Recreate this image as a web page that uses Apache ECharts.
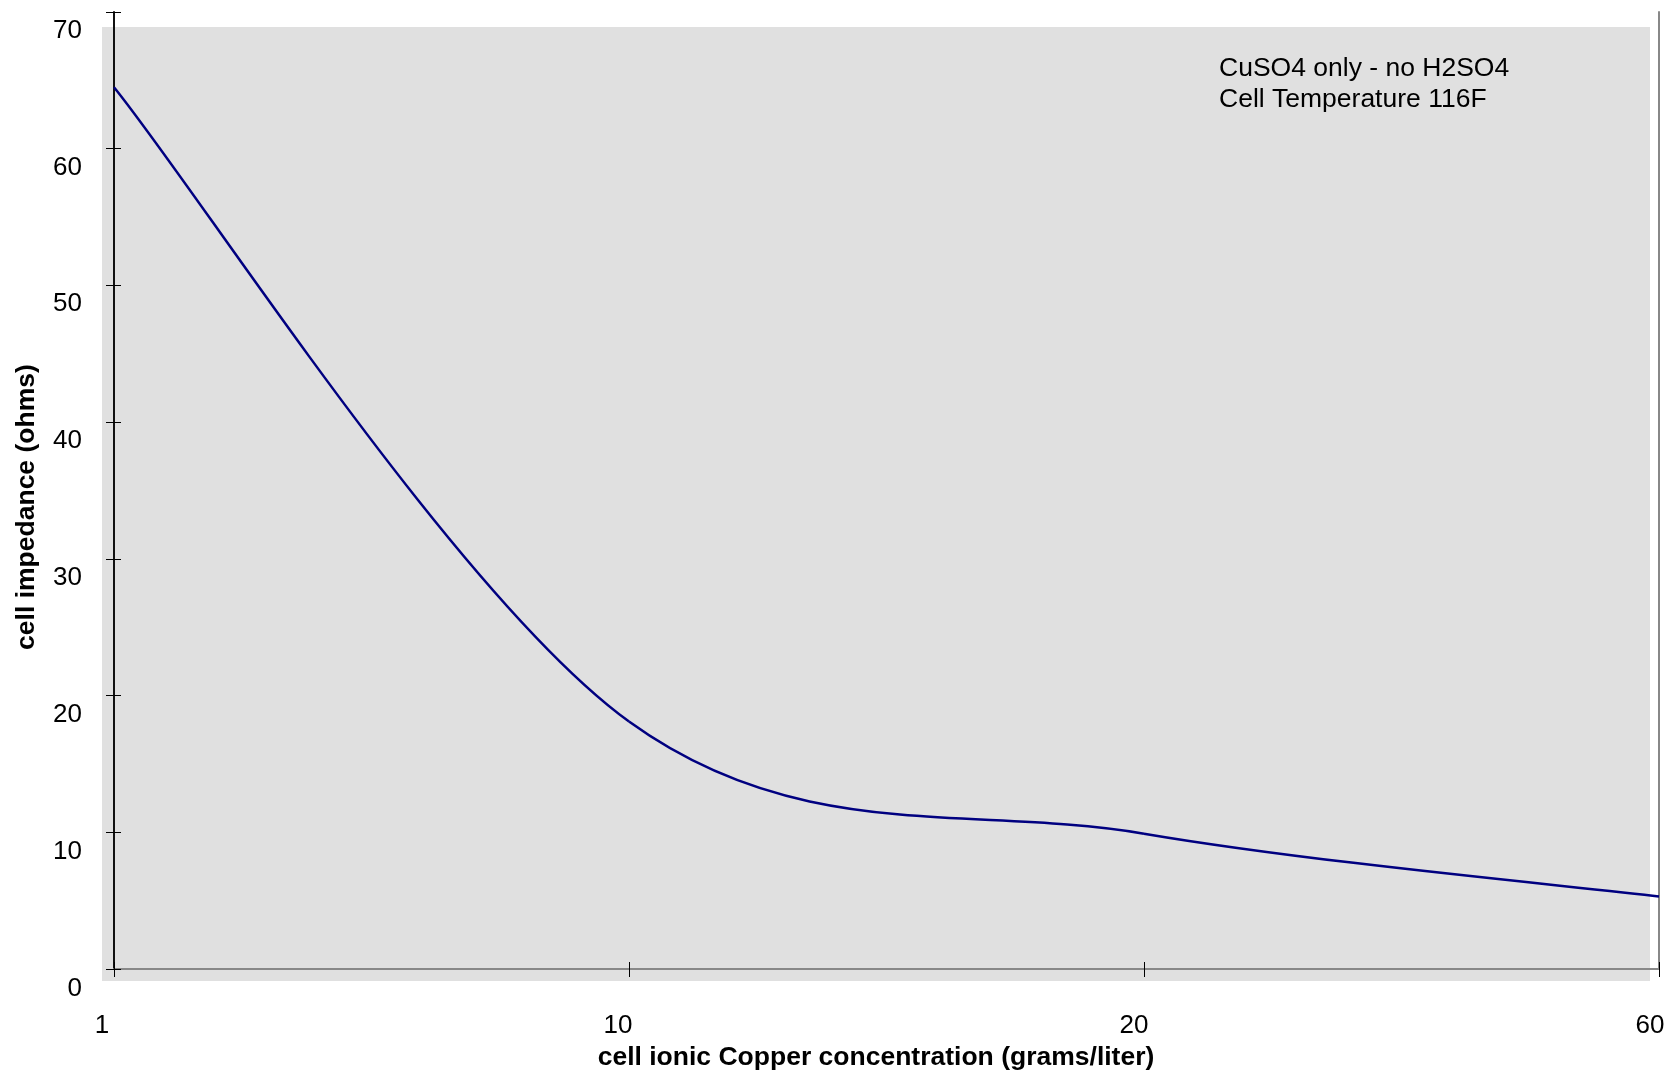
<!DOCTYPE html>
<html>
<head>
<meta charset="utf-8">
<title>cell impedance vs copper concentration</title>
<script src="https://cdn.jsdelivr.net/npm/echarts@6.0.0/dist/echarts.min.js"></script>
<style>
  html, body {
    margin: 0;
    padding: 0;
    background: #fff;
  }

  #impedance-chart {
    width: 1673px;
    height: 1076px;
  }
</style>
</head>
<body>
<div id="impedance-chart"></div>
<script>
// values
const concentrations = ['1', '10', '20', '60'];
const impedance = [64.5, 18.1, 9.9, 5.3];
const yMin = 0;
const yMax = 70;
const yStep = 10;
const notes = ['CuSO4 only - no H2SO4', 'Cell Temperature 116F'];

const FONT = '"Liberation Sans", Arial, sans-serif';
const LINE_COLOR = '#000080';

const hiddenAxis = {
  axisLabel: { show: false },
  axisTick: { show: false },
  splitLine: { show: false },
};

// spreadsheet-style smoothed line: one bezier per segment,
// control points at 1/6 of the neighbour-to-neighbour vector
function renderSegment(params, api) {
  const i = params.dataIndex;
  const last = impedance.length - 1;
  if (i >= last) {
    return null;
  }
  const pt = (k) => {
    const idx = Math.min(Math.max(k, 0), last);
    return api.coord([idx, impedance[idx]]);
  };
  const p0 = pt(i - 1);
  const p1 = pt(i);
  const p2 = pt(i + 1);
  const p3 = pt(i + 2);
  return {
    type: 'bezierCurve',
    shape: {
      x1: p1[0],
      y1: p1[1],
      cpx1: p1[0] + (p2[0] - p0[0]) / 6,
      cpy1: p1[1] + (p2[1] - p0[1]) / 6,
      cpx2: p2[0] - (p3[0] - p1[0]) / 6,
      cpy2: p2[1] - (p3[1] - p1[1]) / 6,
      x2: p2[0],
      y2: p2[1],
    },
    style: {
      fill: null,
      stroke: LINE_COLOR,
      lineWidth: 2.5,
    },
  };
}

const chartData = {
  animation: false,
  backgroundColor: '#fff',
  textStyle: {
    fontFamily: FONT,
  },
  grid: [
    // frame with axis lines, ticks and the curve
    {
      left: 114,
      top: 12,
      right: 14,
      bottom: 107,
    },
    // grey plot area, slightly shifted, carrying the x labels
    {
      left: 102,
      top: 27,
      right: 23,
      bottom: 91,
      show: true,
      z: -5,
      borderWidth: 0,
      backgroundColor: '#e0e0e0',
    },
    // y labels sit a little lower still
    {
      left: 102,
      top: 30.5,
      right: 23,
      bottom: 87.5,
    },
  ],
  xAxis: [
    {
      gridIndex: 0,
      type: 'category',
      boundaryGap: false,
      data: concentrations,
      axisLine: { show: true, lineStyle: { color: '#111', width: 2 } },
      axisTick: { show: true, length: 8, interval: 0, lineStyle: { color: '#000', width: 1 } },
      axisLabel: { show: false },
      splitLine: { show: false },
    },
    {
      gridIndex: 0,
      type: 'category',
      position: 'bottom',
      boundaryGap: false,
      data: concentrations,
      axisLine: { show: false },
      axisTick: { show: true, inside: true, length: 7, interval: 0, lineStyle: { color: '#000', width: 1 } },
      axisLabel: { show: false },
      splitLine: { show: false },
    },
    {
      ...hiddenAxis,
      gridIndex: 0,
      type: 'category',
      position: 'top',
      boundaryGap: false,
      data: concentrations,
      axisLine: { show: true, lineStyle: { color: '#888', width: 2 } },
    },
    {
      gridIndex: 1,
      type: 'category',
      boundaryGap: false,
      data: concentrations,
      axisLine: { show: false },
      axisTick: { show: false },
      splitLine: { show: false },
      axisLabel: {
        interval: 0,
        margin: 32,
        fontSize: 26,
        color: '#000',
        fontFamily: FONT,
      },
      name: 'cell ionic Copper concentration (grams/liter)',
      nameLocation: 'middle',
      nameGap: 60,
      nameTextStyle: {
        fontSize: 26.5,
        fontWeight: 'bold',
        color: '#000',
        fontFamily: FONT,
      },
    },
    {
      ...hiddenAxis,
      gridIndex: 2,
      type: 'category',
      boundaryGap: false,
      data: concentrations,
      axisLine: { show: false },
    },
  ],
  yAxis: [
    {
      gridIndex: 0,
      type: 'value',
      min: yMin,
      max: yMax,
      interval: yStep,
      axisLine: { show: true, lineStyle: { color: '#111', width: 2 } },
      axisTick: { show: true, length: 8, lineStyle: { color: '#000', width: 1 } },
      axisLabel: { show: false },
      splitLine: { show: false },
    },
    {
      gridIndex: 0,
      type: 'value',
      position: 'left',
      min: yMin,
      max: yMax,
      interval: yStep,
      axisLine: { show: false },
      axisTick: { show: true, inside: true, length: 7, lineStyle: { color: '#000', width: 1 } },
      axisLabel: { show: false },
      splitLine: { show: false },
    },
    {
      ...hiddenAxis,
      gridIndex: 0,
      type: 'value',
      position: 'right',
      min: yMin,
      max: yMax,
      interval: yStep,
      axisLine: { show: true, lineStyle: { color: '#888', width: 2 } },
    },
    {
      ...hiddenAxis,
      gridIndex: 1,
      type: 'value',
      min: yMin,
      max: yMax,
      interval: yStep,
      axisLine: { show: false },
      name: 'cell impedance (ohms)',
      nameLocation: 'middle',
      nameGap: 62,
      nameTextStyle: {
        fontSize: 26.5,
        fontWeight: 'bold',
        color: '#000',
        fontFamily: FONT,
        padding: [0, 6, 0, 0],
      },
    },
    {
      gridIndex: 2,
      type: 'value',
      min: yMin,
      max: yMax,
      interval: yStep,
      axisLine: { show: false },
      axisTick: { show: false },
      splitLine: { show: false },
      axisLabel: {
        margin: 20,
        fontSize: 26,
        color: '#000',
        fontFamily: FONT,
      },
    },
  ],
  graphic: [
    {
      type: 'text',
      left: 1219,
      top: 53,
      z: 10,
      style: {
        text: notes.join('\n'),
        fontSize: 26.5,
        lineHeight: 31,
        fontFamily: FONT,
        fill: '#000',
      },
    },
  ],
  series: [
    {
      name: 'cell impedance',
      type: 'custom',
      xAxisIndex: 0,
      yAxisIndex: 0,
      renderItem: renderSegment,
      data: impedance.map((v, i) => [i, v]),
      encode: { x: 0, y: 1 },
    },
  ],
};

const chart = echarts.init(document.getElementById('impedance-chart'));
chart.setOption(chartData);
</script>
</body>
</html>
